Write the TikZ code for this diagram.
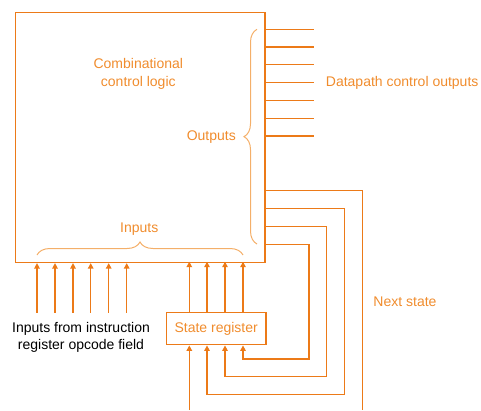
\documentclass[tikz,border=0pt]{standalone}
\usepackage{fontspec}
\setmainfont{Liberation Sans}
\usetikzlibrary{arrows.meta,decorations.pathreplacing}
\definecolor{lineor}{RGB}{236,122,24}
\definecolor{textor}{RGB}{240,140,45}
\definecolor{braceor}{RGB}{244,175,105}
\tikzset{
  wire/.style={draw=lineor,line width=1.4pt},
  arr/.style={wire,-{Triangle[length=5.5pt,width=5.5pt]}},
  lbl/.style={text=textor,font=\fontsize{14}{18}\selectfont,inner sep=0pt},
  blk/.style={text=black,font=\fontsize{14}{17}\selectfont,inner sep=0pt,align=center},
  brc/.style={draw=braceor,line width=1pt,decorate,decoration={brace,amplitude=13pt}},
  boxst/.style={draw=lineor,line width=1.4pt,inner sep=0pt}
}
\begin{document}
\begin{tikzpicture}[x=1pt,y=-1pt]
\useasboundingbox (0,0) rectangle (481,410);
% main block
\node[boxst,anchor=north west,minimum width=249.6pt,minimum height=249.7pt] (ccl) at (14.7,12) {};
\node[lbl,align=center] (cctxt) at (138.3,74.3) {Combinational\\control logic};
% state register
\node[boxst,minimum width=99.7pt,minimum height=32pt,lbl] (sr) at (216.2,328.7) {State register};
% datapath outputs
\foreach \i/\yy in {1/29.3,2/47,3/64.7,4/82.7,5/100.3,6/118.3,7/136}{
  \coordinate (d\i) at (264.3,\yy);
  \coordinate (de\i) at (313.7,\yy);
  \draw[wire] (d\i) -- (de\i);
}
\node[lbl,anchor=west] (dpo) at (325.7,82.7) {Datapath control outputs};
% outputs brace
\coordinate (ob1) at (257,244);
\coordinate (ob2) at (257,29.3);
\draw[brc] (ob1) -- (ob2);
\node[lbl,anchor=east] (outl) at (236,136.7) {Outputs};
% inputs brace
\coordinate (ib1) at (37,255);
\coordinate (ib2) at (243,255);
\draw[brc] (ib1) -- (ib2);
\node[lbl] (inl) at (139.3,228.7) {Inputs};
% opcode input arrows
\foreach \i/\xx in {1/37,2/55,3/73,4/90.7,5/108.7,6/126.7}{
  \coordinate (ip\i) at (\xx,312.7);
  \draw[arr] (ip\i) -- (ip\i |- ccl.south);
}
\node[blk] (optxt) at (81,337.7) {Inputs from instruction\\register opcode field};
% state register to logic
\foreach \i/\xx in {1/189.3,2/207,3/225,4/243}{
  \draw[arr] (sr.north -| \xx,0) -- (\xx,261.7);
}
% next state feedback
\coordinate (n1) at (264.3,190.7);
\coordinate (n2) at (264.3,208.7);
\coordinate (n3) at (264.3,226.3);
\coordinate (n4) at (264.3,244.3);
\coordinate (nend) at (362.3,410);
\draw[wire] (n1) -| (nend);
\draw[arr] (n2) -| (344.3,394.7) -| (sr.south -| 207,0);
\draw[arr] (n3) -| (326.7,376.7) -| (sr.south -| 225,0);
\draw[arr] (n4) -| (309,359) -| (sr.south -| 243,0);
\coordinate (srin) at (189.3,410);
\draw[arr] (srin) -- (srin |- sr.south);
\node[lbl] (nst) at (405,302) {Next state};
\end{tikzpicture}
\end{document}
